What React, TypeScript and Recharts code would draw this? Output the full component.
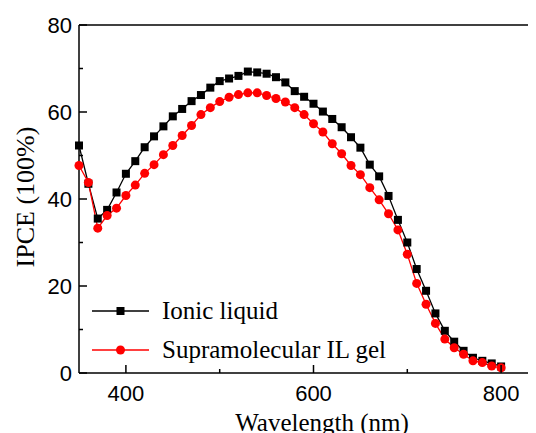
import React from 'react';
import { LineChart, Line, XAxis, YAxis, Legend, ReferenceLine, Label } from 'recharts';

// wavelength (nm)
const wavelengths = [
    350, 360, 370, 380, 390, 400, 410, 420, 430, 440,
    450, 460, 470, 480, 490, 500, 510, 520, 530, 540,
    550, 560, 570, 580, 590, 600, 610, 620, 630, 640,
    650, 660, 670, 680, 690, 700, 710, 720, 730, 740,
    750, 760, 770, 780, 790, 800,
];

const ionicLiquid = [
    52.3, 43.5, 35.5, 37.5, 41.5, 45.8, 48.7, 51.9, 54.4, 56.7,
    59.0, 60.7, 62.5, 63.9, 65.6, 67.1, 67.7, 68.3, 69.3, 69.1,
    68.8, 68.0, 66.8, 64.8, 63.5, 61.9, 60.1, 58.4, 56.5, 54.2,
    51.8, 47.9, 45.2, 40.7, 35.2, 30.0, 23.9, 18.9, 13.7, 9.7,
    7.2, 5.1, 3.5, 2.8, 2.2, 1.5,
];

const ilGel = [
    47.7, 43.8, 33.3, 36.2, 37.9, 40.8, 43.2, 45.9, 47.9, 50.2,
    52.3, 54.6, 56.9, 59.4, 61.0, 62.4, 63.4, 64.0, 64.4, 64.4,
    63.8, 63.1, 62.3, 61.0, 59.4, 57.3, 55.4, 52.7, 50.4, 47.7,
    45.6, 42.6, 39.8, 36.6, 32.9, 27.3, 20.6, 15.8, 11.4, 7.8,
    5.8, 4.3, 2.8, 2.4, 1.6, 1.2,
];

const xTicks = [400, 500, 600, 700, 800];
const yTicks = [0, 10, 20, 30, 40, 50, 60, 70, 80];

const data = wavelengths.map((wl, i) => ({ wl, il: ionicLiquid[i], gel: ilGel[i] }));

const SERIF = "'Times New Roman', 'Liberation Serif', serif";
const SANS = "Arial, 'Liberation Sans', sans-serif";

const XTick = (props: any) => {
    const { x, y, payload } = props;
    const major = payload.value % 200 === 0;
    return (
        <g>
            <line x1={x} x2={x} y1={y} y2={y - (major ? 8 : 4)} stroke="#000" strokeWidth={1.5} />
            {major && (
                <text x={x} y={y + 28} textAnchor="middle" fontFamily={SANS} fontSize={22} fill="#000">
                    {payload.value}
                </text>
            )}
        </g>
    );
};

const YTick = (props: any) => {
    const { x, y, payload } = props;
    const major = payload.value % 20 === 0;
    return (
        <g>
            <line x1={x} x2={x + (major ? 8 : 4)} y1={y} y2={y} stroke="#000" strokeWidth={1.5} />
            {major && (
                <text x={x - 7} y={y + 8} textAnchor="end" fontFamily={SANS} fontSize={22} fill="#000">
                    {payload.value}
                </text>
            )}
        </g>
    );
};

const SquareDot = (props: any) => {
    const { cx, cy } = props;
    if (cx == null || cy == null) return null;
    return <rect x={cx - 4} y={cy - 4} width={8} height={8} fill="#000" />;
};

const renderLegend = (props: any) => {
    const { payload } = props;
    return (
        <svg width={340} height={80}>
            {(payload || []).map((entry: any, i: number) => {
                const cy = 20 + i * 39;
                return (
                    <g key={entry.value}>
                        <line x1={0} x2={57} y1={cy} y2={cy} stroke={entry.color} strokeWidth={1.3} />
                        {entry.dataKey === 'il' ? (
                            <rect x={24.5} y={cy - 4} width={8} height={8} fill="#000" />
                        ) : (
                            <circle cx={28.5} cy={cy} r={4.5} fill="#ff0000" />
                        )}
                        <text x={70} y={cy + 8} fontFamily={SERIF} fontSize={25} fill="#000">
                            {entry.value}
                        </text>
                    </g>
                );
            })}
        </svg>
    );
};

const XTitle = (props: any) => {
    const { viewBox } = props;
    return (
        <text x={viewBox.x + viewBox.width / 2 + 8.5} y={viewBox.y + 58} textAnchor="middle" fontFamily={SERIF} fontSize={25} fill="#000">
            Wavelength (nm)
        </text>
    );
};

const YTitle = (props: any) => {
    const { viewBox } = props;
    const cx = viewBox.x + 17;
    const cy = viewBox.y + 172;
    return (
        <text x={cx} y={cy} transform={`rotate(-90, ${cx}, ${cy})`} textAnchor="middle" dominantBaseline="central" fontFamily={SERIF} fontSize={26} fill="#000">
            IPCE (100%)
        </text>
    );
};

export default function App() {
    return (
        <div style={{ width: 528, height: 425, overflow: 'hidden' }}>
            <LineChart width={560} height={440} data={data} margin={{ top: 17, right: 20, bottom: 0, left: 0 }}>
                <XAxis
                    dataKey="wl"
                    type="number"
                    domain={[350, 850]}
                    ticks={xTicks}
                    height={75}
                    tickSize={0}
                    tickMargin={0}
                    tick={<XTick />}
                    axisLine={{ stroke: '#000', strokeWidth: 1.5 }}
                >
                    <Label content={<XTitle />} />
                </XAxis>
                <YAxis
                    type="number"
                    domain={[0, 80]}
                    ticks={yTicks}
                    width={71}
                    tickSize={0}
                    tickMargin={0}
                    tick={<YTick />}
                    axisLine={{ stroke: '#000', strokeWidth: 1.5 }}
                >
                    <Label content={<YTitle />} />
                </YAxis>
                <ReferenceLine y={80} stroke="#000" strokeWidth={1.5} />
                <ReferenceLine x={850} stroke="#000" strokeWidth={1.5} />
                <Legend
                    layout="vertical"
                    align="center"
                    verticalAlign="middle"
                    content={renderLegend}
                    wrapperStyle={{ left: 84, top: 283, width: 340, height: 80 }}
                />
                <Line
                    dataKey="il"
                    name="Ionic liquid"
                    stroke="#000"
                    strokeWidth={1.3}
                    dot={<SquareDot />}
                    activeDot={false}
                    isAnimationActive={false}
                />
                <Line
                    dataKey="gel"
                    name="Supramolecular IL gel"
                    stroke="#ff0000"
                    strokeWidth={1.3}
                    dot={{ r: 4.5, fill: '#ff0000', stroke: 'none' }}
                    activeDot={false}
                    isAnimationActive={false}
                />
            </LineChart>
        </div>
    );
}
